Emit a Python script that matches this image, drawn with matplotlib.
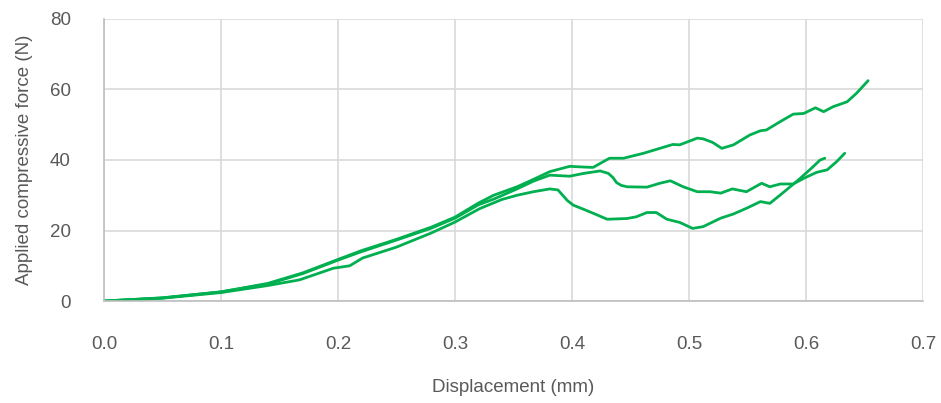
import matplotlib.pyplot as plt

# displacement (mm) / force (N), one pair of lists per specimen
disp_a = [0, 0.05, 0.1, 0.14, 0.17, 0.2, 0.22, 0.25, 0.28, 0.30, 0.32, 0.333, 0.353, 0.367,
          0.381, 0.398, 0.41, 0.418, 0.425, 0.432, 0.444, 0.461, 0.475, 0.486, 0.492, 0.507,
          0.512, 0.52, 0.528, 0.538, 0.552, 0.561, 0.566, 0.578, 0.589, 0.598, 0.608, 0.615,
          0.623, 0.635, 0.643, 0.653]
force_a = [0, 0.9, 2.6, 5.0, 8.0, 11.8, 14.3, 17.5, 21.0, 23.8, 27.8, 30.0, 32.4, 34.5,
           36.7, 38.2, 38.0, 37.9, 39.2, 40.5, 40.5, 41.9, 43.3, 44.4, 44.3, 46.2,
           46.0, 45.0, 43.3, 44.3, 47.1, 48.3, 48.5, 50.9, 53.0, 53.2, 54.8, 53.7,
           55.1, 56.5, 58.9, 62.5]

disp_b = [0, 0.05, 0.1, 0.14, 0.17, 0.2, 0.22, 0.25, 0.28, 0.30, 0.32, 0.333, 0.353, 0.367,
          0.381, 0.398, 0.41, 0.424, 0.431, 0.435, 0.438, 0.442, 0.447, 0.464, 0.475, 0.484,
          0.495, 0.507, 0.518, 0.527, 0.537, 0.549, 0.562, 0.569, 0.578, 0.589, 0.598, 0.609,
          0.618, 0.626, 0.633]
force_b = [0, 0.9, 2.6, 4.8, 7.8, 11.6, 14.0, 17.3, 20.7, 23.5, 27.3, 28.9, 31.8, 34.0,
           35.7, 35.4, 36.2, 36.9, 36.2, 35.0, 33.6, 32.8, 32.4, 32.3, 33.4, 34.1,
           32.4, 31.0, 31.0, 30.6, 31.8, 31.0, 33.4, 32.4, 33.2, 33.2, 34.8, 36.5,
           37.2, 39.5, 41.9]

disp_c = [0, 0.05, 0.1, 0.14, 0.167, 0.196, 0.21, 0.221, 0.25, 0.279, 0.3, 0.321, 0.34, 0.353,
          0.367, 0.381, 0.388, 0.392, 0.396, 0.401, 0.41, 0.418, 0.43, 0.447, 0.455, 0.464,
          0.472, 0.481, 0.492, 0.503, 0.512, 0.527, 0.538, 0.549, 0.561, 0.569, 0.578, 0.586,
          0.595, 0.606, 0.612, 0.616]
force_c = [0, 0.8, 2.4, 4.4, 6.0, 9.3, 10.0, 12.2, 15.3, 19.2, 22.4, 26.2, 28.8, 30.0,
           31.0, 31.8, 31.5, 30.0, 28.5, 27.2, 26.0, 24.9, 23.2, 23.4, 23.9, 25.1,
           25.1, 23.2, 22.3, 20.6, 21.1, 23.5, 24.7, 26.3, 28.2, 27.7, 30.1, 32.3,
           34.8, 38.1, 40.0, 40.5]

x_ticks = [0.0, 0.1, 0.2, 0.3, 0.4, 0.5, 0.6, 0.7]
y_ticks = [0, 20, 40, 60, 80]

plt.rcParams['font.family'] = ['Liberation Sans', 'DejaVu Sans']
text_color = '#595959'
green = '#00B050'

fig = plt.figure(figsize=(9.41, 4.03), dpi=100)
ax = fig.add_axes([0.1105, 0.253, 0.8705, 0.7])

for xs, ys in [(disp_a, force_a), (disp_b, force_b), (disp_c, force_c)]:
    ax.plot(xs, ys, color=green, linewidth=2.0, solid_capstyle='round', solid_joinstyle='round')

ax.set_xlim(0, 0.7)
ax.set_ylim(0, 80)
ax.set_xticks(x_ticks)
ax.set_xticklabels([f"{t:.1f}" for t in x_ticks])
ax.set_yticks(y_ticks)
ax.grid(True, color='#d9d9d9', linewidth=1.2)
ax.set_axisbelow(True)
for side in ['top', 'right']:
    ax.spines[side].set_visible(False)
for side in ['left', 'bottom']:
    ax.spines[side].set_color('#bfbfbf')
    ax.spines[side].set_linewidth(1.2)
ax.tick_params(axis='both', length=0, labelsize=13.5, labelcolor=text_color)
ax.tick_params(axis='x', pad=25)
ax.tick_params(axis='y', pad=24)

ax.set_xlabel("Displacement (mm)", fontsize=13.5, color=text_color, labelpad=19)
ax.set_ylabel("Applied compressive force (N)", fontsize=13.5, color=text_color, labelpad=12)

fig.savefig("out.png", dpi=100)
